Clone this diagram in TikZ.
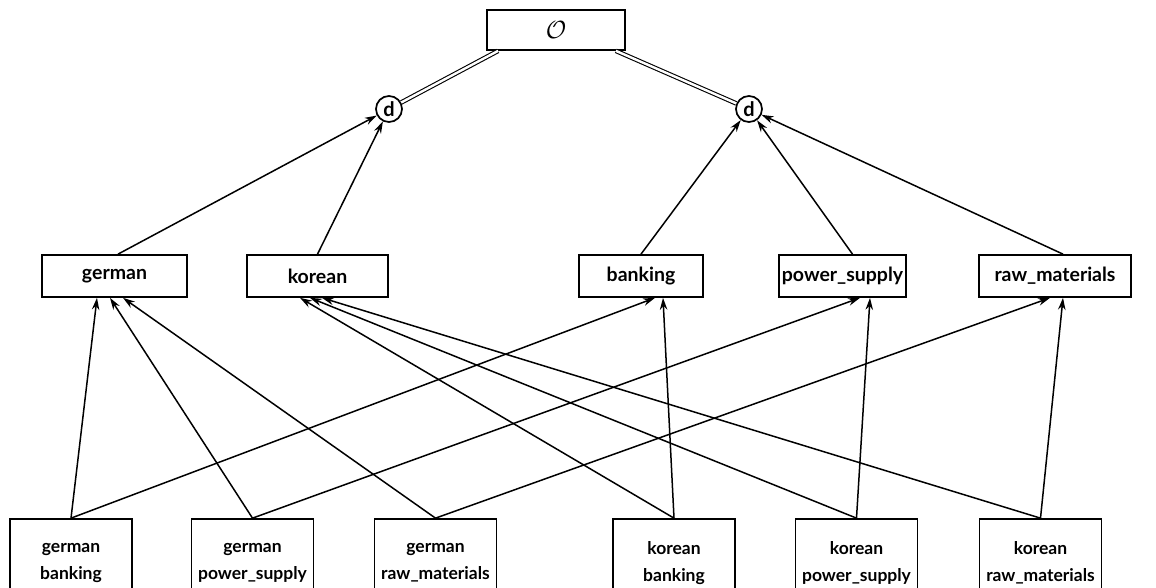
\documentclass[tikz,border=0pt]{standalone}
\usepackage{fontspec}
\setmainfont{Lato}
\usetikzlibrary{arrows.meta}
\begin{document}
\begin{tikzpicture}[x=1pt,y=-1pt,line width=1.7pt,
  box/.style={draw,rectangle,inner sep=0pt},
  mid/.style={box,minimum height=42,font=\fontsize{19.5}{22}\selectfont\bfseries},
  low/.style={box,minimum width=122,minimum height=88,align=center,font=\fontsize{17.5}{27}\selectfont\bfseries},
  dnode/.style={draw,circle,minimum size=26,inner sep=0pt,font=\fontsize{20}{20}\selectfont\bfseries},
  arr/.style={-{Stealth[length=12pt,width=7.5pt]},line width=1.5pt},
  dbl/.style={double,double distance=2.4pt,line width=1.1pt}]
\useasboundingbox (0,0) rectangle (1156,588);
% top
\node[draw,minimum width=138,minimum height=40,inner sep=0pt,font=\fontsize{26}{26}\selectfont] (top) at (556,30) {$\mathcal{O}$};
\node[dnode] (d1) at (389,109) {d};
\node[dnode] (d2) at (749,109) {d};
\draw[dbl] ([xshift=12]top.south west) -- (d1);
\draw[dbl] ([xshift=-10]top.south east) -- (d2);
% middle
\node[mid,minimum width=145] (german) at (114.5,276) {german};
\node[mid,minimum width=141] (korean) at (317.5,276) {korean};
\node[mid,minimum width=124] (banking) at (641,276) {banking};
\node[mid,minimum width=127] (power) at (842.5,276) {power\_supply};
\node[mid,minimum width=152] (raw) at (1055,276) {raw\_materials};
\draw[arr] ([xshift=3.5]german.north) -- (d1);
\draw[arr] (korean.north) -- (d1);
\draw[arr] (banking.north) -- (d2);
\draw[arr] ([xshift=10]power.north) -- (d2);
\draw[arr] ([xshift=8]raw.north) -- (d2);
% bottom
\node[low] (gb) at (71,563) {german\\banking};
\node[low] (gp) at (252.5,563) {german\\power\_supply};
\node[low] (gr) at (435.5,563) {german\\raw\_materials};
\node[low] (kb) at (674,563) {korean\\banking};
\node[low] (kp) at (856.5,563) {korean\\power\_supply};
\node[low] (kr) at (1040.5,563) {korean\\raw\_materials};
\draw[arr] (gb.north) -- ([xshift=-17.5]german.south);
\draw[arr] (gp.north) -- ([xshift=-4.5]german.south);
\draw[arr] (gr.north) -- ([xshift=8.5]german.south);
\draw[arr] (gb.north) -- ([xshift=14]banking.south);
\draw[arr] (gp.north) -- ([xshift=17.5]power.south);
\draw[arr] (gr.north) -- ([xshift=-5]raw.south);
\draw[arr] (kb.north) -- ([xshift=-17.5]korean.south);
\draw[arr] (kp.north) -- ([xshift=-7.5]korean.south);
\draw[arr] (kr.north) -- ([xshift=4.5]korean.south);
\draw[arr] (kb.north) -- ([xshift=22]banking.south);
\draw[arr] (kp.north) -- ([xshift=27.5]power.south);
\draw[arr] (kr.north) -- ([xshift=8]raw.south);
\end{tikzpicture}
\end{document}
